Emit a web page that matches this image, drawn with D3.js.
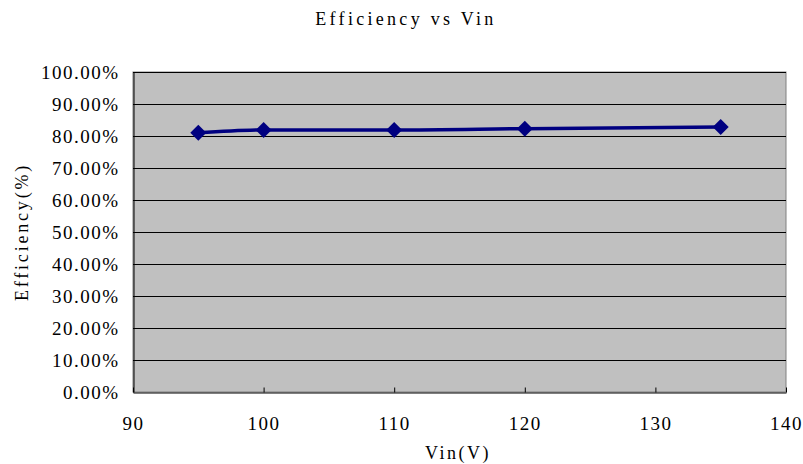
<!DOCTYPE html>
<html>
<head>
<meta charset="utf-8">
<script src="https://cdn.jsdelivr.net/npm/d3@7"></script>
<style>
  body { margin: 0; background: #fff; }
  text { font-family: "Liberation Serif", "DejaVu Serif", serif; fill: #000; }
</style>
</head>
<body>
<div id="chart"></div>
<script>
const vin = [95, 100, 110, 120, 135];
const efficiency = [0.810, 0.819, 0.819, 0.823, 0.828];
const xTicks = [90, 100, 110, 120, 130, 140];
const yTicks = [0, 0.1, 0.2, 0.3, 0.4, 0.5, 0.6, 0.7, 0.8, 0.9, 1.0];

const w = 803;
const h = 464;
const plotLeft = 133, plotRight = 786, plotTop = 72, plotBottom = 392;

const xScale = d3.scaleLinear().domain([90, 140]).range([plotLeft, plotRight]);
const yScale = d3.scaleLinear().domain([0, 1]).range([plotBottom, plotTop]);

const svg = d3.select('#chart')
              .append('svg')
              .attr('width', w)
              .attr('height', h);

// plot background
svg.append('rect')
   .attr('x', plotLeft).attr('y', plotTop)
   .attr('width', plotRight - plotLeft).attr('height', plotBottom - plotTop)
   .attr('fill', '#c0c0c0')
   .attr('stroke', '#808080');

// gridlines
svg.append('g')
   .selectAll('line')
   .data(yTicks.slice(1))
   .enter()
   .append('line')
   .attr('x1', plotLeft).attr('x2', plotRight)
   .attr('y1', d => yScale(d) + 0.5).attr('y2', d => yScale(d) + 0.5)
   .attr('stroke', '#000')
   .attr('stroke-width', 1);

// x axis
const xAxis = d3.axisBottom(xScale).tickValues(xTicks).tickSizeInner(-5).tickSizeOuter(0).tickPadding(24);
const gx = svg.append('g')
   .attr('transform', 'translate(0,' + (plotBottom + 0.5) + ')')
   .call(xAxis);
gx.select('.domain').attr('stroke', '#000');
gx.selectAll('text')
  .attr('font-size', 19)
  .attr('font-family', '"Liberation Serif", serif')
  .attr('letter-spacing', 1.5)
  .attr('fill', '#111');

// y axis
const yAxis = d3.axisLeft(yScale).tickValues(yTicks).tickSize(0).tickSizeOuter(0).tickPadding(14)
                .tickFormat(d => (d * 100).toFixed(2) + '%');
const gy = svg.append('g')
   .attr('transform', 'translate(' + (plotLeft + 0.5) + ',0)')
   .call(yAxis);
gy.select('.domain').attr('stroke', '#000');
gy.selectAll('text')
  .attr('font-size', 19)
  .attr('font-family', '"Liberation Serif", serif')
  .attr('letter-spacing', 1.5)
  .attr('fill', '#111');

// line
const data = vin.map((v, i) => ({ x: v, y: efficiency[i] }));
const line = d3.line()
               .x(d => xScale(d.x))
               .y(d => yScale(d.y))
               .curve(d3.curveMonotoneX);
svg.append('path')
   .datum(data)
   .attr('d', line)
   .attr('fill', 'none')
   .attr('stroke', '#000080')
   .attr('stroke-width', 3.5);

// markers
svg.selectAll('path.dot')
   .data(data)
   .enter()
   .append('path')
   .attr('class', 'dot')
   .attr('d', 'M0,-8L8,0L0,8L-8,0Z')
   .attr('transform', d => 'translate(' + xScale(d.x) + ',' + yScale(d.y) + ')')
   .attr('fill', '#000080');

// titles
svg.append('text')
   .attr('x', 406).attr('y', 25)
   .attr('text-anchor', 'middle')
   .attr('font-size', 18)
   .attr('letter-spacing', 3.3)
   .text('Efficiency vs Vin');

svg.append('text')
   .attr('x', 458).attr('y', 459)
   .attr('text-anchor', 'middle')
   .attr('font-size', 18)
   .attr('letter-spacing', 2.5)
   .text('Vin(V)');

svg.append('text')
   .attr('transform', 'translate(28,232) rotate(-90)')
   .attr('text-anchor', 'middle')
   .attr('font-size', 18)
   .attr('letter-spacing', 2.8)
   .text('Efficiency(%)');
</script>
</body>
</html>
